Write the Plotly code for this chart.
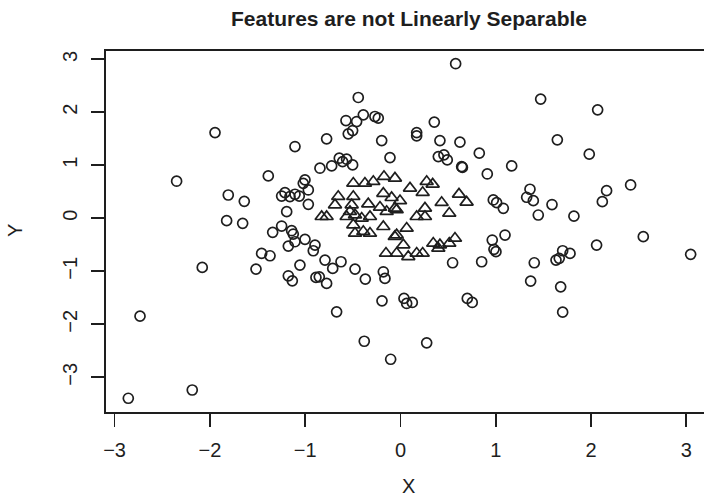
import plotly.graph_objects as go

# Class 1: open circles (outer ring)
circle_x = [-1.946, -2.349, -1.807, -1.639, -1.824, -1.656, -2.08, -2.733, -2.185, -2.856,
            -0.443, -0.39, -0.268, -0.233, -0.572, -0.46, -0.502, -0.548, -0.775, -0.197,
            -1.107, -0.11, -0.642, -0.565, -0.607, -0.502, -0.722, -0.845, -1.387, -1.002,
            -1.02, -0.967, -1.212, -1.247, -1.16, -1.107, -1.062, -0.967, -1.194,
            -1.341, -1.247, -1.142, -1.125, -1.107, -1.177, -1.002, -0.897, -0.915, -1.457,
            -1.369, -1.516, -1.055, -1.177, -1.135, -0.792, -0.624, -0.711, -0.887, -0.852,
            -0.775, -0.477, -0.369, -0.18, -0.163, -0.194, -0.67, -0.38, -0.103,
            0.579, 1.471, 0.355, 0.17, 0.17, 0.414, 0.624, 0.827, 0.397, 0.456,
            0.491, 0.642, 0.65, 1.167, 0.911, 1.359, 1.324, 1.394, 0.974, 1.009,
            1.079, 1.446, 1.59,
            0.963, 1.097, 0.981, 1.002, 0.547, 0.852, 1.404, 1.366, 0.037, 0.065,
            0.124, 0.701, 0.753, 0.275,
            2.069, 1.646, 1.981, 2.415, 2.163, 2.118, 1.82, 2.548, 2.058, 3.045,
            1.702, 1.779, 1.632, 1.666, 1.681, 1.702]
circle_y = [1.618, 0.70, 0.44, 0.32, -0.045, -0.095, -0.926, -1.847, -3.24, -3.396,
            2.28, 1.953, 1.921, 1.89, 1.845, 1.826, 1.656, 1.594, 1.50, 1.467,
            1.354, 1.146, 1.134, 1.115, 1.07, 1.008, 0.989, 0.945, 0.80, 0.724,
            0.66, 0.535, 0.484, 0.42, 0.41, 0.454, 0.42, 0.264, 0.125,
            -0.265, -0.146, -0.234, -0.297, -0.442, -0.524, -0.397, -0.505, -0.612, -0.662,
            -0.707, -0.958, -0.883, -1.085, -1.18, -0.788, -0.82, -0.945, -1.115, -1.104,
            -1.229, -0.958, -1.147, -1.009, -1.134, -1.557, -1.765, -2.32, -2.66,
            2.917, 2.25, 1.815, 1.618, 1.556, 1.467, 1.437, 1.229, 1.165, 1.197,
            1.102, 0.975, 0.96, 0.989, 0.837, 0.548, 0.397, 0.333, 0.346, 0.295,
            0.189, 0.062, 0.26,
            -0.41, -0.316, -0.586, -0.63, -0.839, -0.82, -0.839, -1.185, -1.512, -1.607,
            -1.588, -1.512, -1.588, -2.35,
            2.047, 1.48, 1.21, 0.629, 0.522, 0.314, 0.04, -0.347, -0.505, -0.68,
            -0.612, -0.662, -0.788, -0.756, -1.293, -1.771]

# Class 2: open triangles (inner cluster)
tri_x = [-0.495, -0.373, -0.285, -0.173, -0.058, -0.653, -0.687, -0.495, -0.512, -0.338,
         -0.18, -0.093, -0.215, -0.058, -0.827, -0.775, -0.53, -0.477, -0.32, -0.145,
         -0.565, -0.495, -0.407, -0.477, -0.39, -0.32, -0.18, -0.152, -0.04, -0.04,
         0.1, 0.275, 0.338, 0.233, 0.614, 0.694, 0.432, -0.005, 0.257, 0.512,
         0.17, 0.257, 0.065, -0.06, 0.03, 0.082, 0.17, 0.233, 0.344, 0.397,
         0.414, 0.512, 0.572, -0.04]
tri_y = [0.66, 0.66, 0.694, 0.788, 0.756, 0.41, 0.253, 0.41, 0.253, 0.27,
         0.47, 0.39, 0.208, 0.19, 0.032, 0.032, 0.127, 0.064, 0.032, 0.127,
         0.032, -0.125, 0.0, -0.283, -0.25, -0.283, -0.157, -0.66, -0.314, -0.66,
         0.568, 0.694, 0.643, 0.486, 0.454, 0.303, 0.297, 0.33, 0.19, 0.095,
         0.032, 0.032, -0.189, -0.346, -0.503, -0.724, -0.66, -0.66, -0.472, -0.566,
         -0.503, -0.472, -0.377, 0.159]

x_ticks = [-3, -2, -1, 0, 1, 2, 3]
y_ticks = [-3, -2, -1, 0, 1, 2, 3]

title_text = "Features are not Linearly Separable"
x_label = "X"
y_label = "Y"

ink = "#1e1e1e"
fam = "Liberation Sans, Arial, Helvetica, sans-serif"

W, H = 704, 497

fig = go.Figure()
fig.add_trace(go.Scatter(
    x=circle_x, y=circle_y, mode="markers", showlegend=False, hoverinfo="skip",
    marker=dict(symbol="circle-open", size=10, color=ink, line=dict(width=1.7, color=ink)),
))
fig.add_trace(go.Scatter(
    x=tri_x, y=tri_y, mode="markers", showlegend=False, hoverinfo="skip",
    marker=dict(symbol="triangle-up-open", size=11.5, color=ink, line=dict(width=1.7, color=ink)),
))

axis_common = dict(
    showgrid=False, zeroline=False, showline=True, linecolor=ink, linewidth=2,
    ticks="outside", ticklen=13, tickwidth=1.8, tickcolor=ink,
    tickfont=dict(family=fam, size=20, color=ink),
)

fig.update_layout(
    width=W, height=H,
    margin=dict(l=106, r=0, t=51, b=85, pad=0),
    paper_bgcolor="white", plot_bgcolor="white",
    font=dict(family=fam, color=ink),
    title=dict(text=title_text, x=409 / W, xref="container", xanchor="center",
               y=1 - 19 / H, yref="container", yanchor="middle",
               font=dict(family=fam, size=21, color=ink, weight="bold")),
    xaxis=dict(range=[-3.090, 3.185], tickvals=x_ticks, mirror=True,
               ticklabelstandoff=6, **axis_common),
    yaxis=dict(range=[-3.655, 3.157], tickvals=y_ticks, mirror=False, tickangle=-90,
               ticklabelstandoff=6, **axis_common),
    annotations=[
        dict(text=x_label, xref="paper", yref="paper", x=(408.5 - 106) / 598, y=(412 - 485.5) / 361,
             xanchor="center", yanchor="middle", showarrow=False, borderpad=0,
             font=dict(family=fam, size=20, color=ink)),
        dict(text=y_label, xref="paper", yref="paper", x=(15 - 106) / 598, y=(412 - 231) / 361,
             xanchor="center", yanchor="middle", showarrow=False, textangle=-90, borderpad=0,
             font=dict(family=fam, size=20, color=ink)),
    ],
)

# drop the default 8px page margin so the figure fills the window exactly
fig.write_html("out.html", config={"displayModeBar": False, "staticPlot": True},
               post_script="document.body.style.margin='0px';")
